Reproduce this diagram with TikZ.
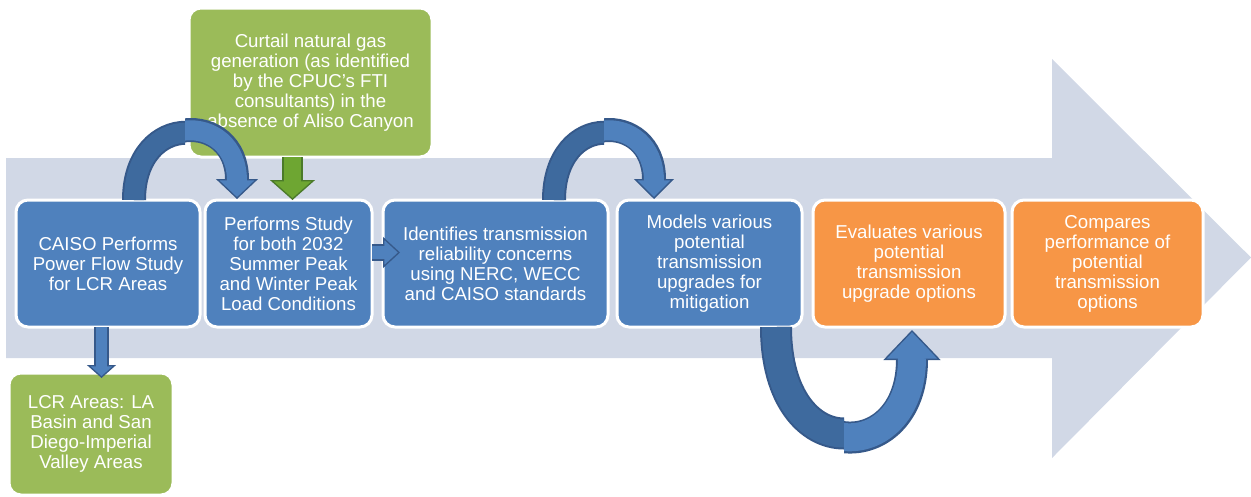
\documentclass[tikz,border=0pt]{standalone}
\usepackage{fontspec}
\setmainfont{Liberation Sans}
\usetikzlibrary{arrows.meta,calc}
\definecolor{bgarrow}{HTML}{D1D8E6}
\definecolor{cblue}{HTML}{4F81BD}
\definecolor{cdark}{HTML}{3E6A9E}
\definecolor{cbord}{HTML}{36598A}
\definecolor{corange}{HTML}{F79646}
\definecolor{cgreen}{HTML}{9BBB59}
\definecolor{cgarrow}{HTML}{6EA632}
\definecolor{cgbord}{HTML}{4B7A2A}
\tikzset{
  box/.style={rounded corners=9pt, draw=white, line width=2.25pt, outer sep=0pt, inner sep=0pt,
    text=white, align=center, font=\fontsize{14}{15}\selectfont, minimum height=95.25pt},
  bluebox/.style={box, fill=cblue},
  orangebox/.style={box, fill=corange},
  greenbox/.style={box, fill=cgreen},
}
\begin{document}
\begin{tikzpicture}[x=0.75pt,y=-0.75pt]
\useasboundingbox (0,0) rectangle (1251,496);
% big background arrow
\fill[bgarrow] (6,158) -- (1052,158) -- (1052,59) -- (1251,257.5) -- (1052,458) -- (1052,358) -- (6,358) -- cycle;
% boxes
\node[bluebox, minimum width=138pt] (b1) at (108,263.5) {CAISO Performs\\Power Flow Study\\for LCR Areas};
\node[bluebox, minimum width=125.25pt] (b2) at (288.5,263.5) {Performs Study\\for both 2032\\Summer Peak\\and Winter Peak\\Load Conditions};
\node[bluebox, minimum width=168.75pt] (b3) at (495.5,263.5) {Identifies transmission\\reliability concerns\\using NERC, WECC\\and CAISO standards};
\node[bluebox, minimum width=138.75pt] (b4) at (709.5,263.5) {Models various\\potential\\transmission\\upgrades for\\mitigation};
\node[orangebox, minimum width=144pt] (b5) at (909,263.5) {Evaluates various\\potential\\transmission\\upgrade options};
\node[orangebox, minimum width=143.25pt] (b6) at (1107.5,263.5) {Compares\\performance of\\potential\\transmission\\options};
\node[greenbox, minimum width=182.25pt, minimum height=111.75pt] (g1) at (310.5,82.5) {Curtail natural gas\\generation (as identified\\by the CPUC’s FTI\\consultants) in the\\absence of Aliso Canyon};
\node[greenbox, minimum width=123pt, minimum height=91.5pt] (g2) at (91,434) {LCR Areas: LA\\Basin and San\\Diego-Imperial\\Valley Areas};
% arrow 1 (curved, b1 -> b2)
\coordinate (a1s) at ($(b1.north)+(26,0)$);
\coordinate (a1e) at ($(b2.north)+(-51.5,-1)$);
\begin{scope}
\clip (0,0) rectangle (185,496);
\draw[cbord, line width=18pt] (a1s) .. controls +(0,-89) and +(0,-89) .. (a1e);
\draw[cdark, line width=15pt] (a1s) .. controls +(0,-89) and +(0,-89) .. (a1e);
\end{scope}
\begin{scope}
\clip (185,0) rectangle (1251,496);
\draw[cbord, line width=18pt, -{Triangle[width=31.5pt,length=15pt,line width=1pt,color=cbord,fill=cblue]}] (a1s) .. controls +(0,-89) and +(0,-89) .. (a1e);
\draw[cblue, line width=15pt, shorten >=13.5pt] (a1s) .. controls +(0,-89) and +(0,-89) .. (a1e);
\end{scope}
% arrow 2 (curved, b3 -> b4)
\coordinate (a2s) at ($(b3.north)+(58.5,0)$);
\coordinate (a2e) at ($(b4.north)+(-55.5,-1)$);
\begin{scope}
\clip (0,0) rectangle (604,496);
\draw[cbord, line width=18pt] (a2s) .. controls +(0,-89) and +(0,-89) .. (a2e);
\draw[cdark, line width=15pt] (a2s) .. controls +(0,-89) and +(0,-89) .. (a2e);
\end{scope}
\begin{scope}
\clip (604,0) rectangle (1251,496);
\draw[cbord, line width=18pt, -{Triangle[width=30pt,length=15pt,line width=1pt,color=cbord,fill=cblue]}] (a2s) .. controls +(0,-89) and +(0,-89) .. (a2e);
\draw[cblue, line width=15pt, shorten >=13.5pt] (a2s) .. controls +(0,-89) and +(0,-89) .. (a2e);
\end{scope}
% arrow 3 (U-shaped, b4 -> b5)
\coordinate (a3s) at ($(b4.south)+(66.5,0)$);
\coordinate (a3e) at ($(b5.south)+(3,3)$);
\begin{scope}
\clip (0,0) rectangle (844,496);
\draw[cbord, line width=24pt] (a3s) .. controls +(0,143) and +(0,137) .. (a3e);
\draw[cdark, line width=21pt] (a3s) .. controls +(0,143) and +(0,137) .. (a3e);
\end{scope}
\begin{scope}
\clip (844,0) rectangle (1251,496);
\draw[cbord, line width=24pt, -{Triangle[width=42.75pt,length=22.5pt,line width=1pt,color=cbord,fill=cblue]}] (a3s) .. controls +(0,143) and +(0,137) .. (a3e);
\draw[cblue, line width=21pt, shorten >=21pt] (a3s) .. controls +(0,143) and +(0,137) .. (a3e);
\end{scope}
% green arrow g1 -> b2
\draw[cgbord, line width=15.75pt, -{Triangle[width=33.75pt,length=15pt,line width=1pt,color=cgbord,fill=cgarrow]}] ($(g1.south)+(-18,0)$) -- ($(b2.north)+(4,0)$);
\draw[cgarrow, line width=13pt, shorten >=13.5pt] ($(g1.south)+(-18,0)$) -- ($(b2.north)+(4,0)$);
% small arrow b1 -> g2
\draw[cbord, line width=11pt, -{Triangle[width=21.75pt,length=9.75pt,line width=1pt,color=cbord,fill=cblue]}] ($(b1.south)+(-6.5,0)$) -- ($(g2.north)+(10.5,5)$);
\draw[cblue, line width=8.5pt, shorten >=8.5pt] ($(b1.south)+(-6.5,0)$) -- ($(g2.north)+(10.5,5)$);
% small arrow b2 -> b3
\draw[cbord, line width=12.5pt, -{Triangle[width=23.25pt,length=12.75pt,line width=1pt,color=cbord,fill=cblue]}] ($(b2.east)+(0,-11)$) -- ($(b3.west)+(17,-11)$);
\draw[cblue, line width=10pt, shorten >=11.5pt] ($(b2.east)+(0,-11)$) -- ($(b3.west)+(17,-11)$);
\end{tikzpicture}
\end{document}
